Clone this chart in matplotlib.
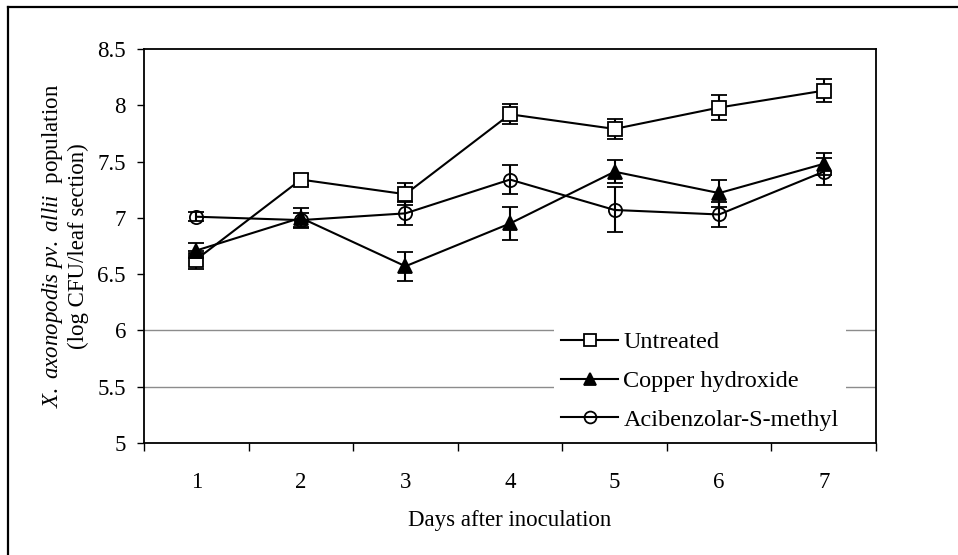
import matplotlib
matplotlib.use("Agg")
import matplotlib.pyplot as plt
from matplotlib.lines import Line2D

plt.rcParams["font.family"] = ["Liberation Serif", "DejaVu Serif"]
plt.rcParams["mathtext.fontset"] = "custom"
plt.rcParams["mathtext.rm"] = "Liberation Serif"
plt.rcParams["mathtext.it"] = "Liberation Serif:italic"

# Bacterial population (log CFU / leaf section) per day, mean and error
days = [1, 2, 3, 4, 5, 6, 7]

untreated = [6.63, 7.34, 7.21, 7.92, 7.79, 7.98, 8.13]
untreated_err = [0.08, 0.05, 0.10, 0.09, 0.09, 0.11, 0.10]

copper = [6.71, 7.00, 6.57, 6.95, 7.41, 7.22, 7.48]
copper_err = [0.07, 0.09, 0.13, 0.15, 0.10, 0.12, 0.10]

asm = [7.01, 6.98, 7.04, 7.34, 7.07, 7.03, 7.41]
asm_err = [0.04, 0.06, 0.10, 0.13, 0.20, 0.11, 0.12]

series_names = ["Untreated", "Copper hydroxide", "Acibenzolar-S-methyl"]
y_ticks = [5, 5.5, 6, 6.5, 7, 7.5, 8, 8.5]
y_tick_labels = ["5", "5.5", "6", "6.5", "7", "7.5", "8", "8.5"]
grid_levels = [5.5, 6.0]

fig = plt.figure(figsize=(9.58, 5.55), dpi=100)
ax = fig.add_axes([144 / 958, 112 / 555, 732 / 958, 394 / 555])

FS = 16.5
LEG_FS = 17.5
LW = 1.5

for g in grid_levels:
    ax.axhline(g, color="#8c8c8c", lw=1.0, zorder=0)

common = dict(color="black", lw=LW, elinewidth=LW, capsize=5.5, capthick=LW,
              markersize=9.5, markeredgewidth=1.3, markeredgecolor="black")

ax.errorbar(days, untreated, yerr=untreated_err, marker="s",
            markerfacecolor="white", zorder=3, **common)
ax.errorbar(days, copper, yerr=copper_err, marker="^",
            markerfacecolor="black", zorder=4, **common)
ax.errorbar(days, asm, yerr=asm_err, marker="o",
            markerfacecolor="none", zorder=5, **common)

ax.set_xlim(0.5, 7.5)
ax.set_ylim(5, 8.5)
ax.set_yticks(y_ticks)
ax.set_yticklabels(y_tick_labels)
ax.set_xticks(days)
ax.set_xticklabels([str(d) for d in days])
ax.set_xticks([d - 0.5 for d in days] + [7.5], minor=True)

ax.tick_params(axis="y", direction="out", length=5, width=1.0, labelsize=FS, pad=8)
ax.tick_params(axis="x", which="major", length=0, labelsize=FS, pad=21)
ax.tick_params(axis="x", which="minor", direction="out", length=6, width=1.0)

for s in ax.spines.values():
    s.set_linewidth(1.3)
    s.set_color("black")

ax.set_xlabel("Days after inoculation", fontsize=FS, labelpad=12)

# Two-line y-axis label, first line partly italic
fig.text(53 / 958, 0.557,
         r"$\mathit{X.\ axonopodis\ pv.\ allii}$  population",
         rotation=90, ha="center", va="center", fontsize=FS)
fig.text(78 / 958, 0.557, "(log CFU/leaf section)",
         rotation=90, ha="center", va="center", fontsize=FS)

handles = [
    Line2D([], [], color="black", lw=LW, marker="s", markerfacecolor="white",
           markeredgecolor="black", markersize=8.5, markeredgewidth=1.3),
    Line2D([], [], color="black", lw=LW, marker="^", markerfacecolor="black",
           markeredgecolor="black", markersize=9, markeredgewidth=1.3),
    Line2D([], [], color="black", lw=LW, marker="o", markerfacecolor="none",
           markeredgecolor="black", markersize=8.5, markeredgewidth=1.3),
]
leg = ax.legend(handles, series_names, loc="center left",
                bbox_to_anchor=((563 - 9 - 144) / 732, (443 - 381) / 394),
                fontsize=LEG_FS, frameon=True,
                handlelength=2.35, handletextpad=0.2, labelspacing=0.68,
                borderpad=0.3, borderaxespad=0.0, fancybox=False)
leg.get_frame().set_edgecolor("none")
leg.get_frame().set_facecolor("white")
leg.get_frame().set_alpha(1.0)
leg.set_zorder(6)

# Outer frame: left and top border lines
fig.add_artist(Line2D([8 / 958, 8 / 958], [0, 548 / 555], color="black",
                      lw=1.6, transform=fig.transFigure))
fig.add_artist(Line2D([8 / 958, 1], [548 / 555, 548 / 555], color="black",
                      lw=1.6, transform=fig.transFigure))

fig.savefig("out.png", dpi=100, facecolor="white")
